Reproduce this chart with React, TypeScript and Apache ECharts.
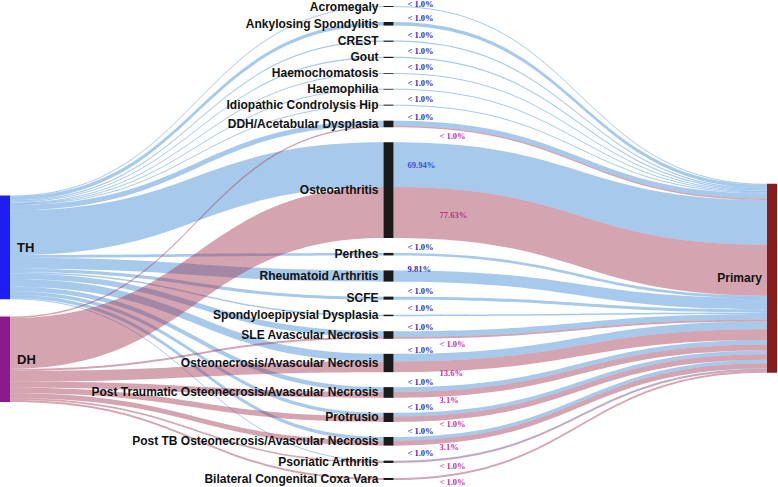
import React, { useEffect, useRef } from 'react';
import * as echarts from 'echarts';

// ---- data ----
const sourceNames = ['TH', 'DH'];
const targetName = 'Primary';
const diagnoses = [
  'Acromegaly',
  'Ankylosing Spondylitis',
  'CREST',
  'Gout',
  'Haemochomatosis',
  'Haemophilia',
  'Idiopathic Condrolysis Hip',
  'DDH/Acetabular Dysplasia',
  'Osteoarthritis',
  'Perthes',
  'Rheumatoid Arthritis',
  'SCFE',
  'Spondyloepipysial Dysplasia',
  'SLE Avascular Necrosis',
  'Osteonecrosis/Avascular Necrosis',
  'Post Traumatic Osteonecrosis/Avascular Necrosis',
  'Protrusio',
  'Post TB Osteonecrosis/Avascular Necrosis',
  'Psoriatic Arthritis',
  'Bilateral Congenital Coxa Vara',
];
// flow sizes (relative) for TH and DH into each diagnosis
const thValues = [1, 3.5, 1.2, 1.2, 0.8, 0.8, 1, 5, 44, 2.5, 11, 3, 1.5, 5.5, 7.5, 4.5, 3.5, 3.5, 0.8, 0];
const dhValues = [0, 0, 0, 0, 0, 0, 0, 1.5, 50, 0, 0, 0, 0, 2, 10.5, 6, 5.5, 5, 1.5, 2];
// share labels printed on the diagnosis -> Primary flows
const thShareLabels = [
  '< 1.0%', '< 1.0%', '< 1.0%', '< 1.0%', '< 1.0%', '< 1.0%', '< 1.0%', '< 1.0%', '69.94%', '< 1.0%',
  '9.81%', '< 1.0%', '< 1.0%', '< 1.0%', '< 1.0%', '< 1.0%', '< 1.0%', '< 1.0%', '< 1.0%', '',
];
const dhShareLabels = [
  '', '', '', '', '', '', '', '< 1.0%', '77.63%', '',
  '', '', '', '< 1.0%', '13.6%', '3.1%', '< 1.0%', '3.1%', '< 1.0%', '< 1.0%',
];

const TH_LINK = 'rgb(58,135,213)';
const DH_LINK = 'rgb(160,55,82)';
const TH_TEXT = '#2a2ac8';
const DH_TEXT = '#cc2aaa';

export default function App() {
  const ref = useRef<HTMLDivElement>(null);

  useEffect(() => {
    const chart = echarts.init(ref.current!, null, { renderer: 'svg' });

    const nodes: any[] = [
      {
        name: sourceNames[0], localY: 0.4, itemStyle: { color: '#1e1ef2' },
        label: { position: 'right', distance: 7, fontSize: 13 },
      },
      {
        name: sourceNames[1], localY: 0.655, itemStyle: { color: '#8c1a8c' },
        label: { position: 'right', distance: 7, fontSize: 13 },
      },
      ...diagnoses.map((d) => ({ name: d, itemStyle: { color: '#1a1a1a' } })),
      { name: targetName, localY: 0.375, itemStyle: { color: '#8b1c1c' }, label: { position: 'left' } },
    ];

    const links: any[] = [];
    const labelMeta: Record<number, { text: string; side: 'th' | 'dh' }> = {};
    diagnoses.forEach((d, i) => {
      if (thValues[i] > 0) links.push({ source: 'TH', target: d, value: thValues[i], lineStyle: { color: TH_LINK } });
    });
    diagnoses.forEach((d, i) => {
      if (dhValues[i] > 0) links.push({ source: 'DH', target: d, value: dhValues[i], lineStyle: { color: DH_LINK } });
    });
    diagnoses.forEach((d, i) => {
      if (thValues[i] > 0) {
        links.push({ source: d, target: targetName, value: thValues[i], lineStyle: { color: TH_LINK } });
        labelMeta[links.length - 1] = { text: thShareLabels[i], side: 'th' };
      }
    });
    diagnoses.forEach((d, i) => {
      if (dhValues[i] > 0) {
        links.push({ source: d, target: targetName, value: dhValues[i], lineStyle: { color: DH_LINK } });
        labelMeta[links.length - 1] = { text: dhShareLabels[i], side: 'dh' };
      }
    });

    chart.setOption({
      animation: false,
      series: [
        {
          type: 'sankey',
          left: 0,
          right: 1,
          top: 6,
          bottom: 7,
          nodeWidth: 10,
          nodeGap: 15,
          layoutIterations: 0,
          draggable: false,
          emphasis: { disabled: true },
          label: {
            position: 'left',
            distance: 5,
            color: '#111',
            fontFamily: '"Liberation Sans", Arial, sans-serif',
            fontWeight: 'bold',
            fontSize: 12,
          },
          itemStyle: { borderWidth: 0 },
          lineStyle: { opacity: 0.45, curveness: 0.5 },
          data: nodes,
          links,
        },
      ],
    });

    // place share labels beside the flows using the library's computed layout
    try {
      const seriesModel: any = (chart as any).getModel().getSeriesByIndex(0);
      const graph = seriesModel.getGraph();
      const info = seriesModel.layoutInfo || { x: 0, y: 6, width: 777, height: 474 };
      const graphic: any[] = [];
      graph.edges.forEach((edge: any) => {
        const m = labelMeta[edge.dataIndex];
        if (!m || !m.text) return;
        const n1 = edge.node1.getLayout();
        const n2 = edge.node2.getLayout();
        const el = edge.getLayout();
        const ly2 = edge.node2.getModel().get('localY');
        const x1 = info.x + n1.x + n1.dx;
        const y1 = info.y + n1.y + el.sy;
        const x2 = info.x + n2.x;
        const y2 = info.y + (ly2 != null ? ly2 * info.height : n2.y) + el.ty;
        const lx = x1 + (m.side === 'th' ? 14 : 46);
        const ex = lx + 12;
        const fx = (t: number) => (x2 - x1) * (1.5 * t * (1 - t) + t * t * t);
        let lo = 0, hi = 1;
        for (let k = 0; k < 40; k++) {
          const mid = (lo + hi) / 2;
          if (fx(mid) < ex - x1) lo = mid; else hi = mid;
        }
        const t = (lo + hi) / 2;
        const yAt = y1 + (y2 - y1) * (3 * t * t - 2 * t * t * t);
        const yc = yAt + el.dy / 2;
        let y = el.dy > 20 ? yc : yc + (m.side === 'th' ? -7 : 7);
        if (y < 3.5) y = 3.5;
        graphic.push({
          type: 'text',
          x: lx,
          y,
          silent: true,
          style: {
            text: m.text,
            fill: m.side === 'th' ? TH_TEXT : DH_TEXT,
            font: 'bold 8.5px "Liberation Serif", serif',
            align: 'left',
            verticalAlign: 'middle',
          },
        });
      });
      chart.setOption({ graphic });
    } catch (e) {
      // ignore
    }

    return () => chart.dispose();
  }, []);

  return (
    <div
      ref={ref}
      style={{ position: 'fixed', left: 0, top: 0, width: 778, height: 487, background: '#fff' }}
    />
  );
}
